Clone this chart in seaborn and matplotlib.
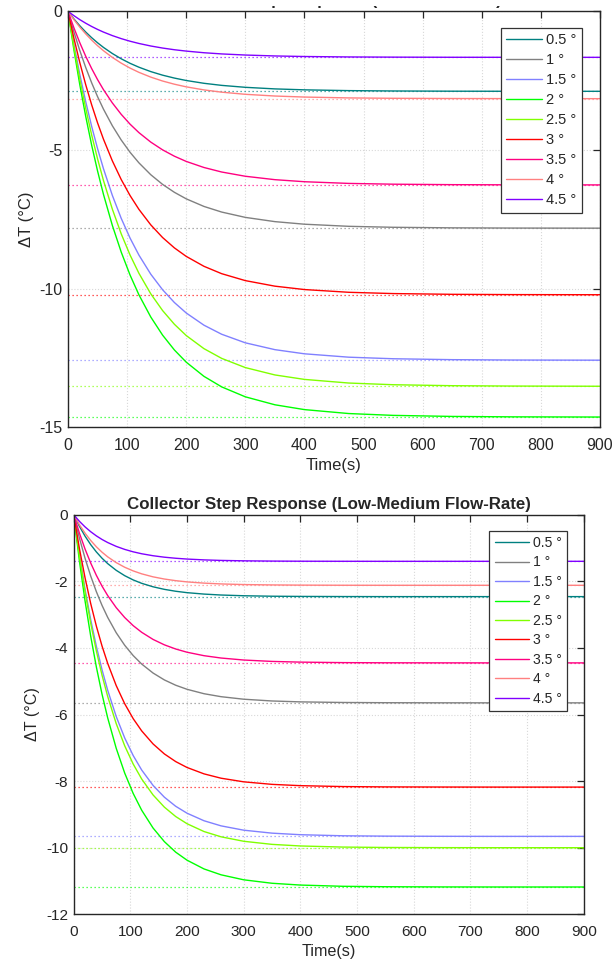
import numpy as np
import pandas as pd
import matplotlib
matplotlib.use("Agg")
import matplotlib.pyplot as plt
import seaborn as sns
from matplotlib.lines import Line2D
from matplotlib.transforms import Bbox

# Collector tilt angles and their line colours
angles = ["0.5 °", "1 °", "1.5 °", "2 °", "2.5 °", "3 °", "3.5 °", "4 °", "4.5 °"]
colors = ["#008080", "#808080", "#8080ff", "#00ff00", "#80ff00",
          "#ff0000", "#ff0080", "#ff8080", "#8000ff"]

# Sample times (s)
time_s = [0, 10, 20, 30, 40, 50, 60, 75, 90, 105, 120, 140, 160, 180, 200,
          230, 260, 300, 350, 400, 475, 550, 650, 750, 900]

# Step response, low flow-rate (delta T in degC)
lo_05 = [0, -0.275, -0.523, -0.748, -0.951, -1.135, -1.302, -1.522, -1.712, -1.876, -2.016, -2.174, -2.303,
         -2.408, -2.495, -2.596, -2.671, -2.741, -2.798, -2.832, -2.860, -2.873, -2.881, -2.884, -2.885]
lo_10 = [0, -0.744, -1.418, -2.027, -2.578, -3.077, -3.528, -4.126, -4.640, -5.084, -5.465, -5.892, -6.241,
         -6.527, -6.762, -7.036, -7.239, -7.431, -7.584, -7.677, -7.753, -7.788, -7.808, -7.816, -7.820]
lo_15 = [0, -1.198, -2.281, -3.261, -4.148, -4.950, -5.676, -6.637, -7.465, -8.178, -8.791, -9.478, -10.040,
         -10.501, -10.878, -11.318, -11.645, -11.954, -12.200, -12.350, -12.472, -12.528, -12.561, -12.574, -12.580]
lo_20 = [0, -1.393, -2.652, -3.792, -4.824, -5.757, -6.601, -7.719, -8.681, -9.511, -10.224, -11.022, -11.676,
         -12.212, -12.651, -13.163, -13.543, -13.901, -14.188, -14.362, -14.504, -14.570, -14.608, -14.623, -14.630]
lo_25 = [0, -1.287, -2.451, -3.504, -4.458, -5.320, -6.100, -7.133, -8.023, -8.789, -9.448, -10.186, -10.790,
         -11.285, -11.691, -12.164, -12.515, -12.847, -13.112, -13.273, -13.404, -13.465, -13.500, -13.513, -13.520]
lo_30 = [0, -0.973, -1.853, -2.649, -3.370, -4.022, -4.611, -5.392, -6.065, -6.644, -7.142, -7.700, -8.157,
         -8.531, -8.837, -9.195, -9.461, -9.711, -9.911, -10.033, -10.132, -10.178, -10.205, -10.215, -10.220]
lo_35 = [0, -0.596, -1.135, -1.623, -2.064, -2.463, -2.825, -3.303, -3.715, -4.070, -4.375, -4.716, -4.996,
         -5.225, -5.413, -5.632, -5.795, -5.948, -6.071, -6.145, -6.206, -6.234, -6.251, -6.257, -6.260]
lo_40 = [0, -0.300, -0.571, -0.816, -1.039, -1.240, -1.421, -1.662, -1.869, -2.048, -2.201, -2.373, -2.514,
         -2.629, -2.724, -2.834, -2.916, -2.993, -3.055, -3.092, -3.123, -3.137, -3.145, -3.148, -3.150]
lo_45 = [0, -0.158, -0.301, -0.430, -0.547, -0.653, -0.749, -0.876, -0.985, -1.079, -1.160, -1.251, -1.325,
         -1.386, -1.435, -1.494, -1.537, -1.577, -1.610, -1.630, -1.646, -1.653, -1.658, -1.659, -1.660]
lo_final = [-2.885, -7.82, -12.58, -14.63, -13.52, -10.22, -6.26, -3.15, -1.66]

# Step response, low-medium flow-rate (delta T in degC)
lm_05 = [0, -0.346, -0.643, -0.899, -1.118, -1.307, -1.469, -1.670, -1.831, -1.959, -2.061, -2.165, -2.242,
         -2.299, -2.341, -2.384, -2.412, -2.434, -2.448, -2.454, -2.458, -2.460, -2.460, -2.460, -2.460]
lm_10 = [0, -0.697, -1.307, -1.842, -2.312, -2.724, -3.084, -3.544, -3.921, -4.231, -4.485, -4.754, -4.962,
         -5.121, -5.243, -5.376, -5.465, -5.541, -5.594, -5.621, -5.639, -5.646, -5.649, -5.650, -5.650]
lm_15 = [0, -1.191, -2.235, -3.150, -3.953, -4.657, -5.273, -6.060, -6.704, -7.233, -7.668, -8.129, -8.483,
         -8.756, -8.964, -9.191, -9.344, -9.474, -9.563, -9.610, -9.642, -9.653, -9.658, -9.660, -9.660]
lm_20 = [0, -1.378, -2.587, -3.646, -4.575, -5.390, -6.103, -7.013, -7.759, -8.372, -8.875, -9.408, -9.818,
         -10.134, -10.375, -10.638, -10.814, -10.964, -11.068, -11.122, -11.159, -11.172, -11.178, -11.180, -11.180]
lm_25 = [0, -1.233, -2.314, -3.261, -4.092, -4.821, -5.459, -6.273, -6.940, -7.488, -7.938, -8.415, -8.782,
         -9.064, -9.280, -9.515, -9.673, -9.807, -9.900, -9.948, -9.981, -9.993, -9.998, -10.000, -10.000]
lm_30 = [0, -1.009, -1.893, -2.668, -3.347, -3.944, -4.465, -5.131, -5.677, -6.125, -6.493, -6.883, -7.184,
         -7.414, -7.591, -7.783, -7.913, -8.022, -8.098, -8.137, -8.164, -8.174, -8.178, -8.180, -8.180]
lm_35 = [0, -0.549, -1.030, -1.451, -1.821, -2.145, -2.429, -2.791, -3.088, -3.332, -3.532, -3.745, -3.908,
         -4.033, -4.130, -4.234, -4.304, -4.364, -4.406, -4.427, -4.442, -4.447, -4.449, -4.450, -4.450]
lm_40 = [0, -0.298, -0.554, -0.774, -0.964, -1.126, -1.266, -1.439, -1.578, -1.688, -1.776, -1.866, -1.932,
         -1.981, -2.018, -2.055, -2.079, -2.098, -2.109, -2.115, -2.119, -2.120, -2.120, -2.120, -2.120]
lm_45 = [0, -0.197, -0.366, -0.511, -0.636, -0.744, -0.836, -0.951, -1.042, -1.115, -1.173, -1.232, -1.276,
         -1.308, -1.332, -1.357, -1.373, -1.385, -1.393, -1.397, -1.399, -1.400, -1.400, -1.400, -1.400]
lm_final = [-2.46, -5.65, -9.66, -11.18, -10.0, -8.18, -4.45, -2.12, -1.40]

xticks = [0, 100, 200, 300, 400, 500, 600, 700, 800, 900]
yticks_lo = [0, -5, -10, -15]
yticks_lm = [0, -2, -4, -6, -8, -10, -12]

titles = ["Collector Step Response (Low Flow-Rate)",
          "Collector Step Response (Low-Medium Flow-Rate)"]

sns.set_style("white")
plt.rcParams["font.family"] = ["Liberation Sans", "DejaVu Sans"]
plt.rcParams["axes.unicode_minus"] = False

W, H = 612, 966
fig = plt.figure(figsize=(W / 100, H / 100), dpi=100)
ax_top = fig.add_axes([68 / W, 1 - 427.3 / H, 532 / W, 416 / H])
ax_bot = fig.add_axes([73.7 / W, 1 - 914.3 / H, 510 / W, 399.6 / H])

palette = dict(zip(angles, colors))


def draw_panel(ax, curves, finals, yticks, legend_anchor, fs, spacing):
    df = pd.DataFrame({
        "Time(s)": np.tile(time_s, len(angles)),
        "dT": np.concatenate(curves),
        "angle": np.repeat(angles, len(time_s)),
    })
    sns.lineplot(data=df, x="Time(s)", y="dT", hue="angle", hue_order=angles,
                 palette=palette, linewidth=1.0, estimator=None, sort=False,
                 legend=False, ax=ax)
    # steady-state levels
    for v, c in zip(finals, colors):
        ax.axhline(v, color=c, ls=(0, (1, 2.2)), lw=0.9, alpha=0.85, zorder=1.5)

    ax.set_xlim(xticks[0], xticks[-1])
    ax.set_ylim(yticks[-1], yticks[0])
    ax.set_xticks(xticks)
    ax.set_yticks(yticks)
    ax.grid(True, ls=":", color="#d8d8d8", lw=0.8)
    ax.tick_params(direction="in", top=True, right=True, length=5, width=0.9,
                   labelsize=fs + 1, colors="#262626")
    ax.tick_params(axis="x", pad=8)
    ax.tick_params(axis="y", pad=4)
    for sp in ax.spines.values():
        sp.set_visible(True)
        sp.set_color("#262626")
        sp.set_linewidth(1.0)
    ax.set_xlabel("Time(s)", fontsize=fs + 1.5, labelpad=3)
    ax.set_ylabel("ΔT (°C)", fontsize=fs + 1.5, labelpad=4)

    handles = [Line2D([], [], color=c, lw=1.0) for c in colors]
    leg = ax.legend(handles, angles, loc="upper right", bbox_to_anchor=legend_anchor,
                    borderaxespad=0, fontsize=fs, frameon=True, fancybox=False,
                    edgecolor="#333333", framealpha=1, handlelength=2.45,
                    handletextpad=0.28, labelspacing=spacing, borderpad=0.38)
    leg.get_frame().set_linewidth(0.9)


draw_panel(ax_top, [lo_05, lo_10, lo_15, lo_20, lo_25, lo_30, lo_35, lo_40, lo_45],
           lo_final, yticks_lo, (0.966, 0.960), 10.5, 0.41)
draw_panel(ax_bot, [lm_05, lm_10, lm_15, lm_20, lm_25, lm_30, lm_35, lm_40, lm_45],
           lm_final, yticks_lm, (0.968, 0.960), 10.1, 0.39)

ax_bot.set_title(titles[1], fontsize=12.2, fontweight="bold", pad=4)

# upper panel title sits above the canvas; only its lowest strokes show
t = fig.text((68 + 600) / 2 / W, 1 - 5 / H, titles[0], ha="center", va="baseline",
             fontsize=12.2, fontweight="bold")
t.set_clip_box(Bbox.from_extents(0, H - 10, W, H - 6))
t.set_clip_on(True)

fig.savefig("out.png", dpi=100)
